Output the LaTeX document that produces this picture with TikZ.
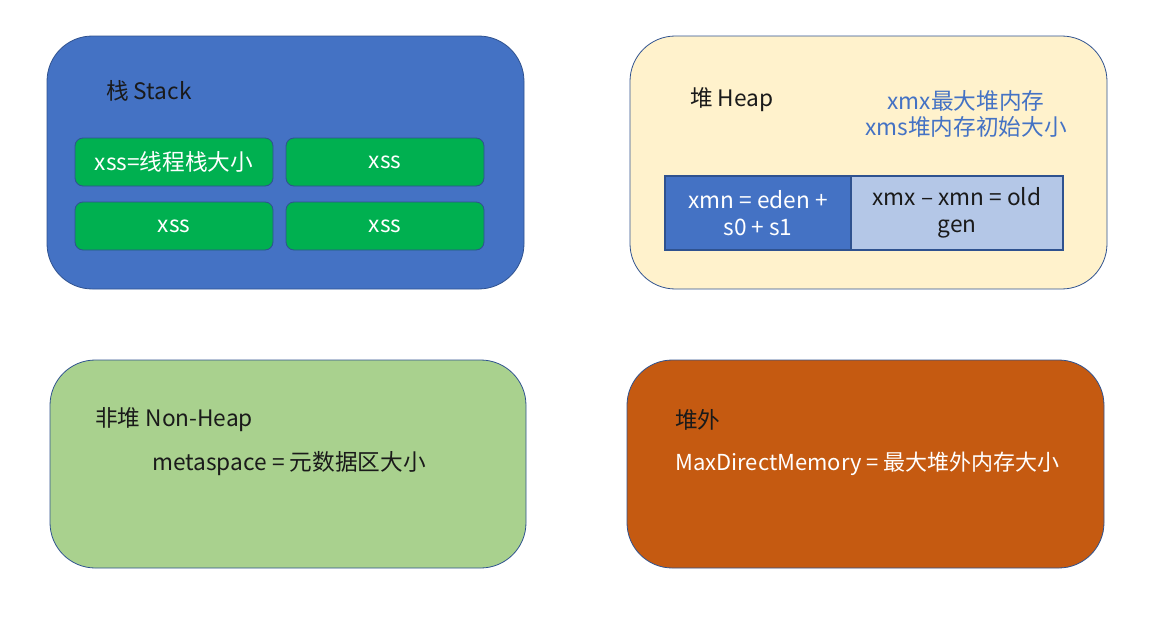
\documentclass[tikz,border=0pt]{standalone}
\usepackage{fontspec}
\setmainfont{Noto Sans CJK SC}
\definecolor{pblue}{HTML}{4472C4}
\definecolor{edge}{HTML}{2F528F}
\definecolor{cream}{HTML}{FFF2CC}
\definecolor{leaf}{HTML}{A9D18E}
\definecolor{rust}{HTML}{C55A11}
\definecolor{xgreen}{HTML}{00B050}
\definecolor{skyblue}{HTML}{B4C7E7}
\definecolor{ink}{HTML}{1A1A1A}
\tikzset{
  region/.style={draw=edge, line width=0.6pt, rounded corners=34pt},
  slot/.style={draw=edge, fill=xgreen, line width=0.6pt, rounded corners=6pt},
  gen/.style={draw=edge, line width=0.8pt},
  lbl/.style={text=ink, font=\fontsize{17}{20}\selectfont, inner sep=0pt},
  val/.style={text=white, font=\fontsize{17}{20}\selectfont, inner sep=0pt, align=center}
}

\begin{document}
\begin{tikzpicture}[x=0.75pt, y=-0.75pt]

\useasboundingbox (0,0) rectangle (1168,625);

% Stack
\draw[region, fill=pblue] (47,36) rectangle (524,289);
\node[lbl, anchor=west] (stack) at (106,91) {栈 Stack};
\draw[slot] (75,138) rectangle (273,186);
\draw[slot] (286,138) rectangle (484,186);
\draw[slot] (75,202) rectangle (273,250);
\draw[slot] (286,202) rectangle (484,250);
\node[val] (xssa) at (174,162) {xss=线程栈大小};
\node[val] (xssb) at (385,162) {xss};
\node[val] (xssc) at (174,226) {xss};
\node[val] (xssd) at (385,226) {xss};

% Heap
\draw[region, fill=cream] (630,36) rectangle (1107,289);
\node[lbl, anchor=west] (heap) at (690,100) {堆 Heap};
\node[lbl, text=pblue, align=center] (heapsize) at (966,114)
  {xmx最大堆内存\\xms堆内存初始大小};
\draw[gen, fill=pblue] (665,176) rectangle (851,250);
\draw[gen, fill=skyblue] (851,176) rectangle (1063,250);
\node[val] (young) at (758,213) {xmn = eden +\\s0 + s1};
\node[val, text=ink] (old) at (957,213) {xmx – xmn = old\\gen};

% Non-Heap
\draw[region, fill=leaf] (50,360) rectangle (526,568);
\node[lbl, anchor=west] (nonheap) at (95,420) {非堆 Non-Heap};
\node[lbl, anchor=west] (meta) at (152,464) {metaspace = 元数据区大小};

% Off-heap
\draw[region, fill=rust] (627,360) rectangle (1104,568);
\node[lbl, anchor=west] (offheap) at (675,420) {堆外};
\node[lbl, text=white, anchor=west, font=\fontsize{16.5}{20}\selectfont] (direct) at (675,464)
  {MaxDirectMemory = 最大堆外内存大小};

\end{tikzpicture}
\end{document}
